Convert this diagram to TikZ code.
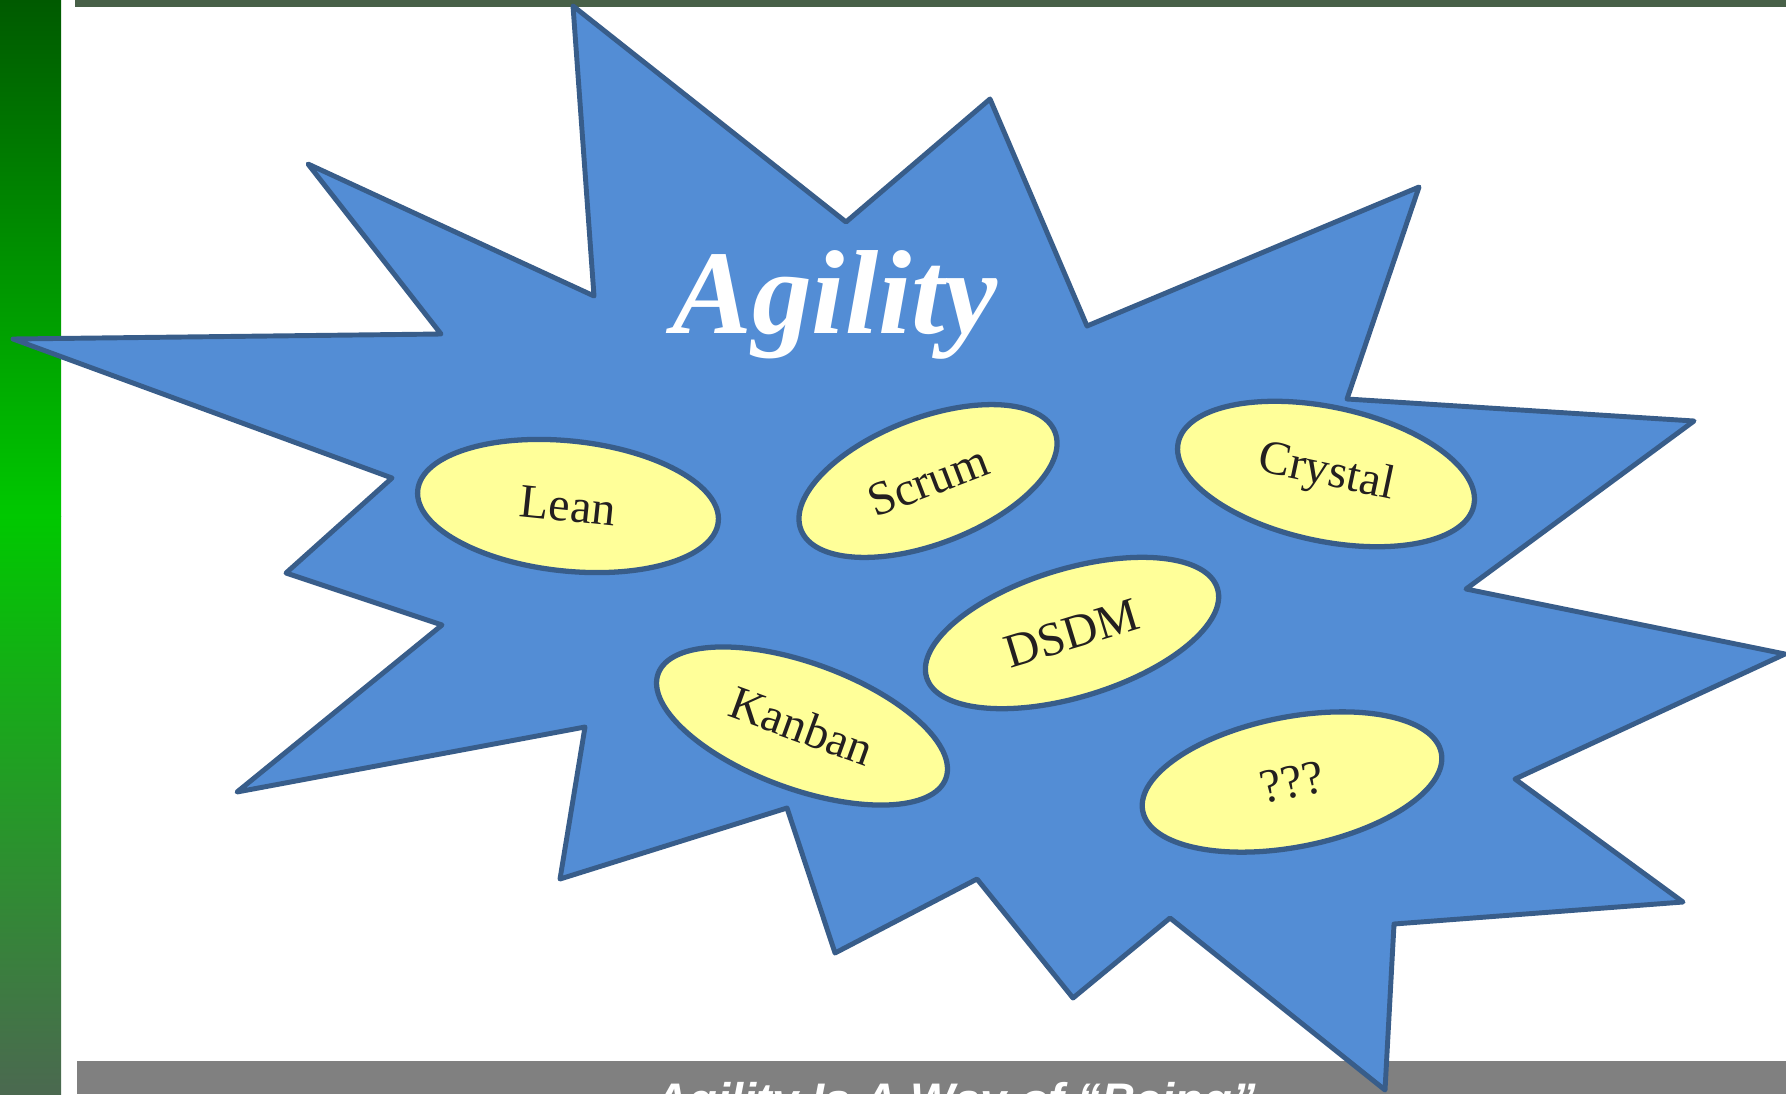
\documentclass[tikz,border=0pt]{standalone}
\usepackage{fontspec}
\setmainfont{Liberation Serif}
\newfontfamily\barfont{Liberation Sans}
\usetikzlibrary{shapes.geometric}
\definecolor{burstfill}{RGB}{83,141,213}
\definecolor{burstedge}{RGB}{56,93,138}
\definecolor{pillfill}{RGB}{255,255,153}
\definecolor{inktext}{RGB}{35,31,32}
\definecolor{bartop}{RGB}{0,90,0}
\definecolor{barmid}{RGB}{0,200,0}
\definecolor{barbot}{RGB}{75,105,80}
\definecolor{rulegreen}{RGB}{72,96,72}
\definecolor{footgray}{RGB}{128,128,128}
\begin{document}
\begin{tikzpicture}[x=0.01cm,y=-0.01cm,
  method/.style={ellipse,draw=burstedge,line width=1.5pt,fill=pillfill,
    inner sep=0pt,text=inktext,font=\fontsize{13.6}{16}\selectfont}]
\useasboundingbox (0,0) rectangle (1786,1094);
% side bar, top rule and footer
\shade[top color=bartop,bottom color=barmid] (0,0) rectangle (61,516);
\shade[top color=barmid,bottom color=barbot] (0,516) rectangle (61,1094);
\fill[rulegreen] (75,0) rectangle (1786,7);
\fill[footgray] (77,1061) rectangle (1786,1094);
% the burst
\draw[burstedge,fill=burstfill,line width=1.4pt,line join=round]
  (573,6) -- (846,222) -- (990,99) -- (1087,326) -- (1419,187)
  -- (1347,399) -- (1694,421) -- (1466,589) -- (1785,654) -- (1515,779)
  -- (1683,902) -- (1394,924) -- (1385,1090) -- (1170,918) -- (1073,998)
  -- (977,879) -- (835,953) -- (787,808) -- (560,879) -- (585,727)
  -- (237,792) -- (442,625) -- (286,573) -- (392,478) -- (13,339)
  -- (441,334) -- (308,164) -- (594,296) -- cycle;
\node[anchor=base,text=white,font=\fontsize{34}{40}\selectfont\bfseries\itshape]
  (agility) at (835,333) {Agility};
% the methods
\node[method,minimum width=3.02cm,minimum height=1.30cm,rotate=-6] (lean) at (568,506) {Lean};
\node[method,minimum width=2.72cm,minimum height=1.26cm,rotate=21] (scrum) at (928,481) {Scrum};
\node[method,minimum width=3.02cm,minimum height=1.34cm,rotate=-12] (crystal) at (1326,474) {Crystal};
\node[method,minimum width=3.04cm,minimum height=1.28cm,rotate=17] (dsdm) at (1072,633) {DSDM};
\node[method,minimum width=3.06cm,minimum height=1.26cm,rotate=-20] (kanban) at (802,726) {Kanban};
\node[method,minimum width=3.04cm,minimum height=1.30cm,rotate=11] (unknown) at (1292,782) {???};
\node[anchor=base,text=white,font=\barfont\fontsize{13.4}{16}\selectfont\bfseries\itshape]
  (motto) at (955,1116) {Agility Is A Way of “Being”};
\end{tikzpicture}
\end{document}
